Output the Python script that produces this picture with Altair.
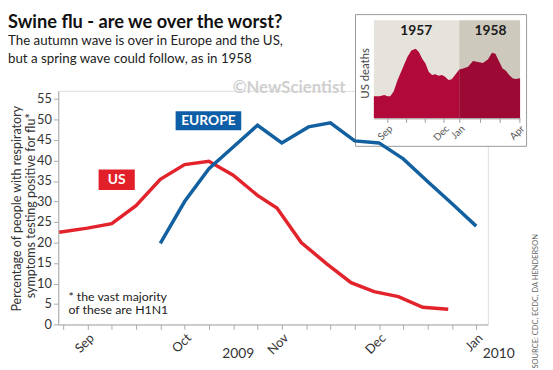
import altair as alt
import pandas as pd

FONT = "Lato"

# ---------------- data ----------------
us_weeks = [-0.16, 1, 2, 3, 4, 5, 6, 7, 8, 8.8, 9.8, 10.85, 11.85, 12.8, 13.8, 14.8, 15.85]
us_values = [22.5, 23.5, 24.6, 29.0, 35.4, 39.0, 39.8, 36.4, 31.5, 28.4, 20.0, 14.8, 10.2, 8.0, 6.8, 4.2, 3.7]

eu_weeks = [4, 5, 6, 7, 8, 9, 10.1, 11, 12, 13, 14, 15, 16, 17]
eu_values = [19.8, 30.0, 38.0, 43.3, 48.6, 44.3, 48.2, 49.2, 44.8, 44.3, 40.4, 34.9, 29.5, 24.0]

month_tick_weeks = [1, 5, 9, 13, 17]
month_tick_names = ["Sep", "Oct", "Nov", "Dec", "Jan"]

# inset: US deaths 1957-58 (relative units), x in months from Sep 1957
m1957 = [-0.70, -0.40, -0.14, 0.03, 0.17, 0.35, 0.56, 0.82, 1.08, 1.29, 1.52, 1.69, 1.86,
         2.04, 2.21, 2.39, 2.56, 2.74, 2.91, 3.08, 3.26, 3.43, 3.61, 3.83]
d1957 = [67, 67, 71, 67, 67, 82, 117, 152, 187, 207, 212, 202, 182,
         167, 142, 132, 134, 130, 132, 127, 117, 119, 132, 149]
m1958 = [3.83, 4.04, 4.30, 4.56, 4.83, 5.09, 5.35, 5.57, 5.75, 5.96, 6.13, 6.31, 6.48, 6.66, 6.83, 7.06]
d1958 = [149, 152, 157, 175, 172, 169, 179, 200, 197, 172, 152, 145, 132, 122, 120, 122]

inset_ticks = [0, 1, 2, 3, 3.83, 4.91, 5.96, 7.0]
inset_tick_names = ["Sep", "", "", "Dec", "Jan", "", "", "Apr"]
year_names = ["1957", "1958"]
year_starts = [-0.70, 3.83]
year_ends = [3.83, 7.06]

# ---------------- geometry ----------------
W, H = 436, 237.1
X_DOM = [-0.2, 17.48]
Y_DOM = [0, 57]

us_df = pd.DataFrame({"week": us_weeks, "pct": us_values})
eu_df = pd.DataFrame({"week": eu_weeks, "pct": eu_values})

xs = alt.Scale(domain=X_DOM, nice=False, zero=False)
ys = alt.Scale(domain=Y_DOM, nice=False)

def expr_for(vals, names):
    parts = []
    for v, n in zip(vals, names):
        parts.append(f"abs(datum.value - {v}) < 0.01 ? '{n}' : ")
    return "".join(parts) + "''"

x_axis = alt.Axis(orient="bottom", values=list(range(0, 18)),
                  labelExpr=expr_for(month_tick_weeks, month_tick_names),
                  labelAngle=-45, labelFontSize=13, labelColor="#333", labelFont=FONT,
                  domainColor="#aaa", tickColor="#aaa", tickSize=5, grid=False, title=None,
                  labelOverlap=False, labelPadding=2, zindex=1)
y_axis = alt.Axis(orient="left", values=list(range(0, 56, 5)), labelFontSize=13, labelColor="#333",
                  labelFont=FONT, domainColor="#aaa", tickColor="#aaa", tickSize=5, gridColor="#ececec",
                  title=None, labelPadding=2)

red_line = alt.Chart(us_df).mark_line(color="#e2232b", strokeWidth=3.5).encode(
    x=alt.X("week:Q", scale=xs, axis=x_axis), y=alt.Y("pct:Q", scale=ys, axis=y_axis))
blue_line = alt.Chart(eu_df).mark_line(color="#12609f", strokeWidth=3.5).encode(
    x=alt.X("week:Q", scale=xs, axis=x_axis), y=alt.Y("pct:Q", scale=ys, axis=y_axis))

labels_df = pd.DataFrame({
    "name": ["EUROPE", "US"],
    "x1": [4.63, 1.46], "x2": [7.33, 2.95],
    "y1": [52.0, 37.8], "y2": [47.4, 32.8],
    "xc": [5.98, 2.2], "yc": [49.7, 35.3],
    "fill": ["#0d5ea6", "#e2202a"],
})
label_boxes = alt.Chart(labels_df).mark_rect().encode(
    x=alt.X("x1:Q", scale=xs, axis=x_axis), x2="x2",
    y=alt.Y("y1:Q", scale=ys, axis=y_axis), y2="y2",
    fill=alt.Fill("fill:N", scale=None))
label_texts = alt.Chart(labels_df).mark_text(color="white", font=FONT, fontSize=14, fontWeight="bold").encode(
    x=alt.X("xc:Q", scale=xs, axis=x_axis), y=alt.Y("yc:Q", scale=ys, axis=y_axis), text="name:N")

one = pd.DataFrame({"a": [0]})

def txt(text, x, y, size=13, weight="normal", color="#222", angle=0, align="left", baseline="alphabetic"):
    kw = dict(font=FONT, fontSize=size, fontWeight=weight, color=color, align=align, baseline=baseline)
    if angle:
        kw["angle"] = angle
    return alt.Chart(one).mark_text(**kw).encode(x=alt.value(x), y=alt.value(y), text=alt.value(text))

texts = [
    txt("Swine flu - are we over the worst?", -51, -63.7, size=18.5, weight="bold", color="#111"),
    txt("The autumn wave is over in Europe and the US,", -51, -46.4, size=13.5, color="#222"),
    txt("but a spring wave could follow, as in 1958", -51, -28.4, size=13.5, color="#222"),
    txt("©NewScientist", 177, -2.5, size=17, weight="bold", color="#cfcfcf", baseline="middle"),
    txt("Percentage of people with respiratory", -42, 119.6, size=12.7, color="#333", angle=270,
        align="center", baseline="middle"),
    txt("symptoms testing positive for flu*", -27.5, 116.6, size=12.7, color="#333", angle=270,
        align="center", baseline="middle"),
    txt("* the vast majority", 10.3, 208.9, size=12.5, color="#222", baseline="middle"),
    txt("of these are H1N1", 10.3, 222.9, size=12.5, color="#222", baseline="middle"),
    txt("2009", 182.7, 267.3, size=14, color="#333", align="center", baseline="middle"),
    txt("2010", 447, 267.3, size=14, color="#333", align="center", baseline="middle"),
    txt("SOURCE: CDC, ECDC, DA HENDERSON", 484.5, 213.6, size=7.6, color="#666", angle=270,
        align="center", baseline="middle"),
]

main = alt.layer(red_line, blue_line, label_boxes, label_texts, *texts)

# ---------------- inset ----------------
inset_df = pd.DataFrame({
    "month": m1957 + m1958,
    "deaths": d1957 + d1958,
    "year": ["1957"] * len(m1957) + ["1958"] * len(m1958),
})
years_df = pd.DataFrame({"year": year_names, "start": year_starts, "end": year_ends,
                         "mid": [1.55, 5.49], "top": [299, 299], "ly": [265, 265]})

ixs = alt.Scale(domain=[-0.70, 7.06], range=[320.3, 468.7], nice=False, zero=False)
iys = alt.Scale(domain=[0, 299], range=[27.9, -71.7], nice=False)
i_axis = alt.Axis(orient="bottom", values=inset_ticks, labelExpr=expr_for(inset_ticks, inset_tick_names),
                  labelAngle=-45, labelFontSize=10, labelColor="#555", labelFont=FONT,
                  domainColor="#999", tickColor="#999", tickSize=4, grid=False, title=None,
                  labelOverlap=False, offset=27.9 - H, labelPadding=1, zindex=2)

inset_box = alt.Chart(one).mark_rect(fill="white", stroke="#999", strokeWidth=1).encode(
    x=alt.value(301.7), x2=alt.value(475.3), y=alt.value(-77.4), y2=alt.value(56.3))
year_bg = alt.Chart(years_df).mark_rect().encode(
    x=alt.X("start:Q", scale=ixs, axis=i_axis), x2="end",
    y=alt.Y("top:Q", scale=iys, axis=None), y2=alt.datum(0),
    fill=alt.Fill("year:N", scale=alt.Scale(domain=year_names, range=["#e5e3dc", "#cdc9bd"]), legend=None))
area = alt.Chart(inset_df).mark_area(line=False).encode(
    x=alt.X("month:Q", scale=ixs, axis=i_axis),
    y=alt.Y("deaths:Q", scale=iys, axis=None, stack=None),
    color=alt.Color("year:N", scale=alt.Scale(domain=year_names, range=["#b2093b", "#9c0934"]), legend=None))
year_labels = alt.Chart(years_df).mark_text(font=FONT, fontSize=14, fontWeight="bold", color="#1a1a1a").encode(
    x=alt.X("mid:Q", scale=ixs, axis=i_axis), y=alt.Y("ly:Q", scale=iys, axis=None), text="year:N")
deaths_title = txt("US deaths", 312.7, -17.7, size=11.5, color="#444", angle=270,
                   align="center", baseline="middle")

inset = alt.layer(inset_box, year_bg, area, year_labels, deaths_title)

chart = alt.layer(inset, main).resolve_scale(
    x="independent", y="independent", color="independent", fill="independent"
).properties(
    width=W, height=H, autosize=alt.AutoSizeParams(type="none"),
    padding={"left": 51, "top": 81.4, "right": 58, "bottom": 43.5},
).configure_view(stroke=None).configure(background="white")

chart.save("out.html", embed_options={"renderer": "svg", "actions": False})
